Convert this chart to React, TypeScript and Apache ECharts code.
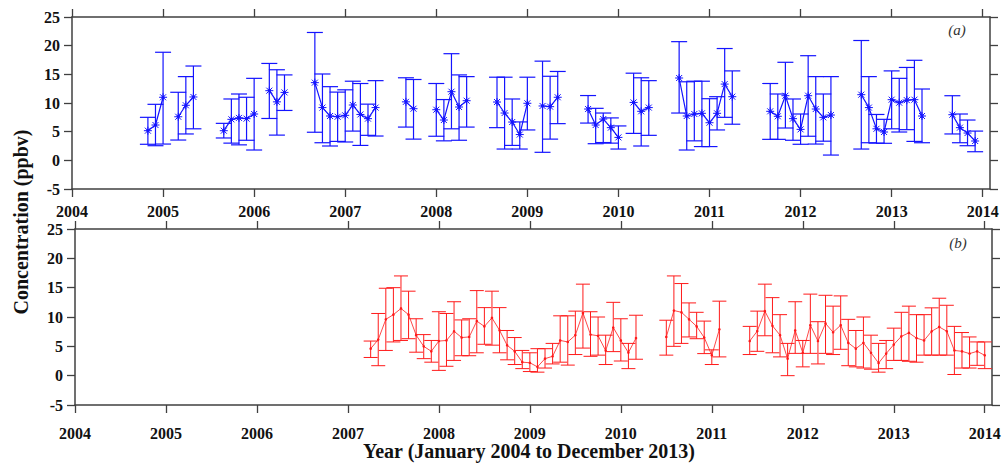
import React, { useEffect, useRef } from "react";
import * as echarts from "echarts";

const yearTicks = [2004, 2005, 2006, 2007, 2008, 2009, 2010, 2011, 2012, 2013, 2014];

// Panel (a): monthly mean and error bar limits (blue)
const blueMonths = [
  "2004-11", "2004-12", "2005-01", "2005-03", "2005-04", "2005-05",
  "2005-09", "2005-10", "2005-11", "2005-12", "2006-01", "2006-03", "2006-04", "2006-05",
  "2006-09", "2006-10", "2006-11", "2006-12", "2007-01", "2007-02", "2007-03", "2007-04", "2007-05",
  "2007-09", "2007-10", "2008-01", "2008-02", "2008-03", "2008-04", "2008-05",
  "2008-09", "2008-10", "2008-11", "2008-12", "2009-01", "2009-03", "2009-04", "2009-05",
  "2009-09", "2009-10", "2009-11", "2009-12", "2010-01", "2010-03", "2010-04", "2010-05",
  "2010-09", "2010-10", "2010-11", "2010-12", "2011-01", "2011-02", "2011-03", "2011-04",
  "2011-09", "2011-10", "2011-11", "2011-12", "2012-01", "2012-02", "2012-03", "2012-04", "2012-05",
  "2012-09", "2012-10", "2012-11", "2012-12", "2013-01", "2013-02", "2013-03", "2013-04", "2013-05",
  "2013-09", "2013-10", "2013-11", "2013-12",
];
const blueMean = [
  5.17, 6.16, 11.0, 7.6, 9.6, 11.05,
  5.17, 7.15, 7.4, 7.27, 8.08, 12.15, 10.2, 11.85,
  13.55, 9.2, 7.73, 7.6, 7.85, 9.65, 8.0, 7.27, 9.2,
  10.2, 9.0, 8.83, 7.03, 11.97, 9.3, 10.4,
  10.17, 8.25, 6.68, 4.5, 9.95, 9.48, 9.36, 11.0,
  8.95, 6.16, 7.2, 5.7, 4.0, 10.1, 8.55, 9.2,
  14.36, 7.73, 8.08, 8.2, 6.56, 8.2, 13.3, 11.1,
  8.55, 7.68, 11.27, 7.27, 5.4, 11.27, 8.95, 7.5, 7.9,
  11.45, 9.2, 5.5, 4.94, 10.58, 10.05, 10.5, 10.58, 7.73,
  7.96, 5.7, 4.76, 3.37,
];
const blueLow = [
  2.8, 2.55, 2.84, 3.54, 4.6, 5.5,
  3.9, 3.0, 2.7, 3.5, 1.8, 7.3, 4.4, 8.7,
  4.9, 3.07, 2.5, 3.3, 3.2, 5.1, 2.6, 4.36, 4.24,
  5.8, 3.7, 4.2, 3.4, 5.5, 3.5, 5.8,
  5.7, 1.97, 2.6, 1.97, 5.3, 1.4, 3.7, 6.4,
  6.5, 2.9, 3.1, 3.0, 1.97, 4.7, 2.5, 4.36,
  8.25, 1.8, 3.4, 2.4, 2.4, 5.3, 7.5, 6.3,
  3.66, 3.66, 5.64, 3.5, 2.8, 4.2, 2.84, 3.34, 0.92,
  1.97, 3.07, 3.0, 2.97, 5.5, 4.94, 5.35, 3.3, 3.07,
  4.6, 3.07, 2.55, 1.5,
];
const blueHigh = [
  7.5, 9.77, 18.85, 11.87, 14.6, 16.45,
  6.45, 10.7, 11.57, 11.0, 14.3, 16.9, 15.8, 14.9,
  22.3, 15.06, 12.85, 11.9, 12.3, 13.8, 13.4, 9.8, 13.9,
  14.4, 14.1, 13.4, 10.6, 18.6, 14.9, 14.6,
  14.5, 14.5, 10.7, 6.7, 14.5, 17.3, 14.66, 15.5,
  11.3, 9.07, 8.25, 7.4, 6.0, 15.2, 14.4, 13.9,
  20.7, 13.7, 13.8, 13.8, 10.75, 11.1, 19.5, 15.6,
  13.4, 11.57, 17.1, 10.7, 8.08, 18.25, 14.6, 11.57, 14.6,
  20.9, 14.6, 8.0, 7.15, 15.6, 14.3, 16.2, 17.45, 12.44,
  11.27, 8.08, 7.03, 5.1,
];

// Panel (b): monthly mean and error bar limits (red)
const redMonths = [
  "2007-04", "2007-05", "2007-06", "2007-07", "2007-08", "2007-09", "2007-10", "2007-11", "2007-12",
  "2008-01", "2008-02", "2008-03", "2008-04", "2008-05", "2008-06", "2008-07", "2008-08", "2008-09", "2008-10", "2008-11", "2008-12",
  "2009-01", "2009-02", "2009-03", "2009-04", "2009-05", "2009-06", "2009-07", "2009-08", "2009-09", "2009-10", "2009-11", "2009-12",
  "2010-01", "2010-02", "2010-03", "2010-07", "2010-08", "2010-09", "2010-10", "2010-11", "2010-12",
  "2011-01", "2011-02", "2011-06", "2011-07", "2011-08", "2011-09", "2011-10", "2011-11", "2011-12",
  "2012-01", "2012-02", "2012-03", "2012-04", "2012-05", "2012-06", "2012-07", "2012-08", "2012-09", "2012-10", "2012-11", "2012-12",
  "2013-01", "2013-02", "2013-03", "2013-04", "2013-05", "2013-06", "2013-07", "2013-08", "2013-09", "2013-10", "2013-11", "2013-12",
  "2014-01",
];
const redMean = [
  4.6, 6.15, 9.6, 10.4, 11.45, 10.4, 6.9, 5.0, 4.15,
  5.9, 6.0, 7.57, 6.5, 6.6, 9.3, 8.4, 9.85, 7.74, 5.18, 4.15, 2.3,
  2.2, 1.5, 2.9, 3.3, 6.0, 5.75, 6.9, 10.7, 7.0, 6.8, 4.27, 8.2,
  6.0, 3.93, 6.4, 6.6, 11.1, 10.8, 9.6, 8.4, 6.5,
  3.47, 7.9, 5.9, 7.6, 11.0, 8.5, 6.9, 2.9, 7.7,
  3.9, 8.6, 5.9, 8.9, 7.4, 8.6, 5.6, 4.6, 5.6, 3.9, 2.15, 3.76,
  5.3, 6.7, 7.3, 6.4, 6.0, 7.57, 8.3, 7.57, 4.3, 4.15, 3.76, 4.15,
  3.47,
];
const redLow = [
  3.1, 1.7, 4.3, 5.75, 6.0, 6.3, 4.0, 2.9, 2.3,
  0.9, 1.6, 2.6, 3.4, 3.4, 3.9, 5.35, 5.2, 3.9, 2.7, 1.9, 1.2,
  0.7, 0.6, 1.3, 2.0, 2.3, 1.8, 3.6, 4.7, 3.3, 3.5, 1.9, 4.1,
  2.5, 1.2, 2.8, 3.5, 5.0, 5.5, 6.6, 6.3, 3.76,
  1.9, 3.2, 3.6, 4.15, 6.8, 3.9, 3.2, 0.0, 3.8,
  1.5, 3.8, 2.0, 3.8, 3.6, 4.5, 1.7, 1.5, 1.3, 1.1, 0.6, 1.2,
  2.6, 2.6, 2.45, 2.3, 3.5, 3.5, 3.5, 3.5, 0.2, 1.3, 1.3, 1.76,
  1.2,
];
const redHigh = [
  5.9, 10.6, 14.9, 15.0, 17.0, 14.4, 9.7, 7.0, 6.0,
  10.9, 10.6, 12.6, 9.5, 9.7, 14.5, 11.6, 14.4, 11.6, 7.7, 6.5, 4.3,
  3.9, 4.6, 4.6, 5.5, 10.2, 10.2, 11.0, 15.6, 10.9, 10.0, 6.9, 12.5,
  9.7, 5.5, 10.3, 9.45, 17.0, 15.7, 12.4, 10.8, 9.3,
  4.4, 12.7, 8.4, 11.0, 15.6, 13.3, 10.4, 5.5, 12.6,
  6.0, 13.9, 9.2, 13.7, 11.85, 13.6, 9.6, 7.7, 10.0, 6.9, 5.5, 6.0,
  8.1, 10.8, 11.85, 10.4, 10.4, 11.56, 13.2, 12.0, 8.4, 7.35, 6.6, 5.75,
  5.75,
];

const SERIF = "'Liberation Serif', 'Times New Roman', serif";
const AXIS_COLOR = "#404040";
const BLUE = "#1414ff";
const RED = "#ff1a1a";

function monthIndex(s: string): number {
  const [y, m] = s.split("-").map(Number);
  return y * 12 + (m - 1);
}
function monthToX(s: string): number {
  return monthIndex(s) / 12;
}

function buildLine(months: string[], mean: number[]): any[] {
  const out: any[] = [];
  for (let i = 0; i < months.length; i++) {
    if (i > 0 && monthIndex(months[i]) - monthIndex(months[i - 1]) > 1) {
      out.push([monthToX(months[i]) - 0.04, "-"]);
    }
    out.push([monthToX(months[i]), mean[i]]);
  }
  return out;
}

function buildBars(months: string[], mean: number[], low: number[], high: number[]): any[] {
  return months.map((m, i) => [monthToX(m), mean[i], low[i], high[i]]);
}

function makeRender(color: string, cap: number, lw: number, star: boolean) {
  return (params: any, api: any) => {
    const x = api.value(0);
    const pM = api.coord([x, api.value(1)]);
    const pLo = api.coord([x, api.value(2)]);
    const pHi = api.coord([x, api.value(3)]);
    const style = { stroke: color, lineWidth: lw, fill: null };
    const children: any[] = [
      { type: "line", shape: { x1: pLo[0], y1: pLo[1], x2: pHi[0], y2: pHi[1] }, style },
      { type: "line", shape: { x1: pLo[0] - cap, y1: pLo[1], x2: pLo[0] + cap, y2: pLo[1] }, style },
      { type: "line", shape: { x1: pHi[0] - cap, y1: pHi[1], x2: pHi[0] + cap, y2: pHi[1] }, style },
    ];
    if (star) {
      const r = 4;
      const d = r * 0.75;
      const ss = { stroke: color, lineWidth: 1, fill: null };
      children.push(
        { type: "line", shape: { x1: pM[0] - r, y1: pM[1], x2: pM[0] + r, y2: pM[1] }, style: ss },
        { type: "line", shape: { x1: pM[0], y1: pM[1] - r, x2: pM[0], y2: pM[1] + r }, style: ss },
        { type: "line", shape: { x1: pM[0] - d, y1: pM[1] - d, x2: pM[0] + d, y2: pM[1] + d }, style: ss },
        { type: "line", shape: { x1: pM[0] - d, y1: pM[1] + d, x2: pM[0] + d, y2: pM[1] - d }, style: ss },
        { type: "circle", shape: { cx: pM[0], cy: pM[1], r: 1.6 }, style: { fill: color } }
      );
    } else {
      children.push({ type: "circle", shape: { cx: pM[0], cy: pM[1], r: 1.3 }, style: { fill: color } });
    }
    return { type: "group", children };
  };
}

function xAxes(gridIndex: number, margin: number) {
  const common = {
    type: "value",
    gridIndex,
    min: 2004,
    max: 2014.08,
    splitLine: { show: false },
    axisLine: { show: true, onZero: false, lineStyle: { color: AXIS_COLOR, width: 1.5 } },
    axisTick: { show: true, inside: false, length: 8, customValues: yearTicks, lineStyle: { color: AXIS_COLOR, width: 1.3 } },
  };
  return [
    {
      ...common,
      position: "bottom",
      axisLabel: {
        show: true,
        customValues: yearTicks,
        margin,
        color: "#111",
        fontFamily: SERIF,
        fontWeight: "bold",
        fontSize: 16,
        formatter: (v: number) => String(Math.round(v)),
      },
    },
    { ...common, position: "top", axisLabel: { show: false } },
  ];
}

function yAxes(gridIndex: number) {
  const common = {
    type: "value",
    gridIndex,
    min: -5,
    max: 25,
    interval: 5,
    splitLine: { show: false },
    axisLine: { show: true, onZero: false, lineStyle: { color: AXIS_COLOR, width: 1.5 } },
    axisTick: { show: true, inside: false, length: 8, lineStyle: { color: AXIS_COLOR, width: 1.3 } },
  };
  return [
    {
      ...common,
      position: "left",
      axisLabel: { show: true, margin: 12, color: "#111", fontFamily: SERIF, fontWeight: "bold", fontSize: 16 },
    },
    { ...common, position: "right", axisLabel: { show: false } },
  ];
}

export default function App() {
  const ref = useRef<HTMLDivElement>(null);

  useEffect(() => {
    if (!ref.current) return;
    const chart = echarts.init(ref.current, null, { renderer: "svg" });
    const option: any = {
      animation: false,
      backgroundColor: "#ffffff",
      grid: [
        { left: 72, top: 17, width: 918, height: 172 },
        { left: 75, top: 229, width: 917, height: 176 },
      ],
      xAxis: [...xAxes(0, 14), ...xAxes(1, 20)],
      yAxis: [...yAxes(0), ...yAxes(1)],
      series: [
        {
          type: "line",
          xAxisIndex: 0,
          yAxisIndex: 0,
          data: buildLine(blueMonths, blueMean),
          symbol: "none",
          connectNulls: false,
          lineStyle: { color: BLUE, width: 1.2 },
          z: 2,
        },
        {
          type: "custom",
          xAxisIndex: 0,
          yAxisIndex: 0,
          data: buildBars(blueMonths, blueMean, blueLow, blueHigh),
          encode: { x: 0, y: [1, 2, 3] },
          renderItem: makeRender(BLUE, 8, 1.2, true),
          z: 3,
        },
        {
          type: "line",
          xAxisIndex: 2,
          yAxisIndex: 2,
          data: buildLine(redMonths, redMean),
          symbol: "none",
          connectNulls: false,
          lineStyle: { color: RED, width: 0.8 },
          z: 2,
        },
        {
          type: "custom",
          xAxisIndex: 2,
          yAxisIndex: 2,
          data: buildBars(redMonths, redMean, redLow, redHigh),
          encode: { x: 0, y: [1, 2, 3] },
          renderItem: makeRender(RED, 7, 1, false),
          z: 3,
        },
      ],
      graphic: [
        {
          type: "text",
          x: 21,
          y: 222,
          rotation: Math.PI / 2,
          style: {
            text: "Concentration (ppbv)",
            fontFamily: SERIF,
            fontWeight: "bold",
            fontSize: 20,
            fill: "#111",
            align: "center",
            verticalAlign: "middle",
          },
        },
        {
          type: "text",
          x: 529,
          y: 451,
          style: {
            text: "Year (January 2004 to December 2013)",
            fontFamily: SERIF,
            fontWeight: "bold",
            fontSize: 20,
            fill: "#111",
            align: "center",
            verticalAlign: "middle",
          },
        },
        {
          type: "text",
          x: 957,
          y: 30,
          style: { text: "(a)", fontFamily: SERIF, fontStyle: "italic", fontSize: 15, fill: "#333", align: "center", verticalAlign: "middle" },
        },
        {
          type: "text",
          x: 958,
          y: 243,
          style: { text: "(b)", fontFamily: SERIF, fontStyle: "italic", fontSize: 15, fill: "#333", align: "center", verticalAlign: "middle" },
        },
      ],
    };
    chart.setOption(option);
    return () => chart.dispose();
  }, []);

  return (
    <div
      ref={ref}
      style={{ position: "fixed", left: 0, top: 0, width: 1006, height: 466, background: "#fff" }}
    />
  );
}
